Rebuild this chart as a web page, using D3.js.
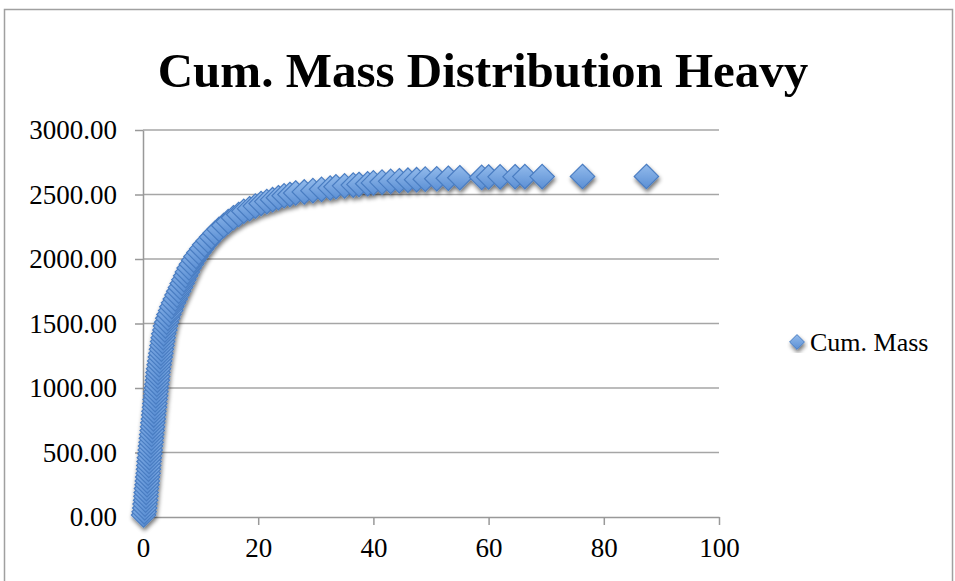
<!DOCTYPE html>
<html>
<head>
  <script src="https://d3js.org/d3.v7.min.js"></script>
  <style>
    body { margin: 0; background: #fff; }
    svg { font-family: "Liberation Serif", "DejaVu Serif", serif; }
    .axis text { font-size: 27px; fill: #000; font-family: "Liberation Serif", "DejaVu Serif", serif; }
    .axis path, .axis line { stroke: #999; stroke-width: 1.5px; }
    .grid line { stroke: #a6a6a6; stroke-width: 1.5px; }
  </style>
</head>
<body>
  <script>
    // particle size (x) vs cumulative mass (y)
    var sizes = [
      0.1, 0.2, 0.3, 0.35, 0.45, 0.5, 0.55, 0.6, 0.7, 0.75,
      0.8, 0.9, 0.95, 1.0, 1.05, 1.1, 1.2, 1.25, 1.3, 1.4,
      1.45, 1.5, 1.6, 1.65, 1.7, 1.8, 1.85, 1.9, 2.0, 2.05,
      2.1, 2.2, 2.25, 2.3, 2.4, 2.5, 2.55, 2.6, 2.7, 2.8,
      2.9, 3.0, 3.1, 3.2, 3.3, 3.4, 3.5, 3.6, 3.8, 3.9,
      4.1, 4.3, 4.5, 4.8, 5.0, 5.3, 5.6, 5.9, 6.2, 6.5,
      6.8, 7.1, 7.4, 7.7, 8.0, 8.4, 8.8, 9.2, 9.7, 10.2,
      10.7, 11.3, 11.9, 12.5, 13.2, 14.0, 14.8, 15.7, 16.6, 17.5,
      18.5, 19.5, 20.5, 21.5, 22.5, 23.5, 24.5, 25.5, 26.5, 28,
      29.5, 31, 32.5, 33.5, 35, 36.5, 37.5, 39, 40, 41.5,
      43, 44.5, 46, 47.5, 49, 51, 53, 55, 58.8, 60,
      62, 64.6, 66.3, 69.3, 76.3, 87.4
    ];
    var cumMass = [
      15, 40, 70, 100, 130, 160, 190, 220, 250, 280,
      310, 340, 370, 400, 430, 460, 490, 520, 550, 580,
      610, 640, 670, 700, 730, 760, 790, 820, 850, 880,
      910, 940, 970, 1000, 1030, 1060, 1090, 1120, 1150, 1180,
      1210, 1240, 1270, 1300, 1330, 1360, 1390, 1420, 1450, 1480,
      1510, 1540, 1570, 1600, 1630, 1660, 1690, 1720, 1750, 1780,
      1810, 1840, 1870, 1900, 1930, 1960, 1990, 2020, 2050, 2080,
      2110, 2140, 2170, 2200, 2230, 2260, 2290, 2320, 2345, 2370,
      2390, 2410, 2430, 2445, 2460, 2475, 2490, 2500, 2512, 2520,
      2530, 2540, 2550, 2560, 2567, 2573, 2578, 2583, 2590, 2596,
      2602, 2607, 2611, 2615, 2619, 2622, 2626, 2630, 2633, 2636,
      2637, 2638, 2639, 2639, 2640, 2640, 2640
    ];
    var xTicks = [0, 20, 40, 60, 80, 100];
    var yTicks = [0, 500, 1000, 1500, 2000, 2500, 3000];
    var title = "Cum. Mass Distribution Heavy";
    var seriesName = "Cum. Mass";

    var data = sizes.map(function(s, i) { return { x: s, y: cumMass[i] }; });

    var width = 955, height = 581;
    var svg = d3.select("body").append("svg")
        .attr("width", width)
        .attr("height", height);

    var defs = svg.append("defs");
    var grad = defs.append("linearGradient")
        .attr("id", "markerFill")
        .attr("x1", 0).attr("y1", 0).attr("x2", 0).attr("y2", 1);
    grad.append("stop").attr("offset", "0%").attr("stop-color", "#93bbec");
    grad.append("stop").attr("offset", "100%").attr("stop-color", "#5b8fd4");

    var shadow = defs.append("filter")
        .attr("id", "shadow")
        .attr("x", "-20%").attr("y", "-20%")
        .attr("width", "140%").attr("height", "140%");
    shadow.append("feGaussianBlur").attr("in", "SourceAlpha").attr("stdDeviation", 2).attr("result", "blur");
    shadow.append("feOffset").attr("in", "blur").attr("dx", 1).attr("dy", 3).attr("result", "off");
    shadow.append("feComponentTransfer").attr("in", "off").attr("result", "soft")
      .append("feFuncA").attr("type", "linear").attr("slope", 0.55);
    var merge = shadow.append("feMerge");
    merge.append("feMergeNode").attr("in", "soft");
    merge.append("feMergeNode").attr("in", "SourceGraphic");

    // chart frame
    svg.append("rect")
        .attr("x", 4.5).attr("y", 9.5)
        .attr("width", 948).attr("height", 620)
        .attr("fill", "none")
        .attr("stroke", "#a0a0a0")
        .attr("stroke-width", 1.5);

    svg.append("text")
        .attr("x", 483)
        .attr("y", 87)
        .attr("text-anchor", "middle")
        .style("font-size", "49px")
        .style("font-weight", "bold")
        .text(title);

    var x = d3.scaleLinear().domain([0, 100]).range([143, 719]);
    var y = d3.scaleLinear().domain([0, 3000]).range([517, 130]);

    // gridlines
    svg.append("g").attr("class", "grid")
      .selectAll("line")
        .data(yTicks.slice(1))
      .enter().append("line")
        .attr("x1", x(0)).attr("x2", x(100))
        .attr("y1", function(d) { return y(d); })
        .attr("y2", function(d) { return y(d); });

    var xAxis = d3.axisBottom(x)
        .tickValues(xTicks)
        .tickSize(8)
        .tickSizeOuter(0)
        .tickPadding(13);
    var yAxis = d3.axisLeft(y)
        .tickValues(yTicks)
        .tickFormat(d3.format(".2f"))
        .tickSize(8)
        .tickSizeOuter(0)
        .tickPadding(18);

    svg.append("g")
        .attr("class", "x axis")
        .attr("transform", "translate(0," + y(0) + ")")
        .call(xAxis)
        .attr("font-family", null);
    svg.append("g")
        .attr("class", "y axis")
        .attr("transform", "translate(" + x(0) + ",0)")
        .call(yAxis)
        .attr("font-family", null);

    var diamond = d3.symbol().type(d3.symbolDiamond2).size(380);

    svg.append("g")
        .attr("filter", "url(#shadow)")
      .selectAll(".pt")
        .data(data)
      .enter().append("path")
        .attr("class", "pt")
        .attr("d", diamond)
        .attr("transform", function(d) { return "translate(" + x(d.x) + "," + y(d.y) + ")"; })
        .attr("fill", "url(#markerFill)")
        .attr("stroke", "#4a7dc2")
        .attr("stroke-width", 1.2);

    // legend
    var legend = svg.append("g").attr("transform", "translate(797,342)");
    legend.append("path")
        .attr("d", d3.symbol().type(d3.symbolDiamond2).size(140))
        .attr("fill", "url(#markerFill)")
        .attr("stroke", "#4a7dc2")
        .attr("filter", "url(#shadow)");
    legend.append("text")
        .attr("x", 13)
        .attr("y", 9)
        .style("font-size", "26px")
        .text(seriesName);
  </script>
</body>
</html>
